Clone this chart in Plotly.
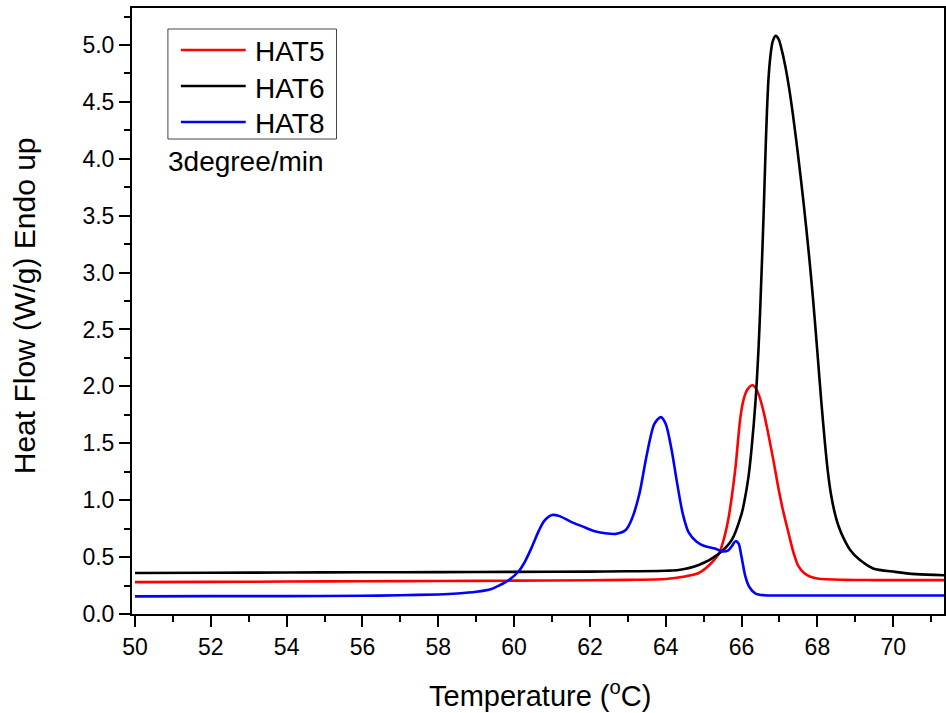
import plotly.graph_objects as go

# DSC heating scans at 3 degree/min
t_hat5 = [50, 52, 54, 56, 58, 60, 62, 63, 64, 64.5, 64.87, 65.15, 65.4, 65.55, 65.66,
          65.75, 65.84, 65.97, 66.05, 66.15, 66.29, 66.4, 66.5, 66.6, 66.7, 66.84, 66.97,
          67.1, 67.24, 67.37, 67.5, 67.65, 67.8, 68.03, 68.74, 69.5, 71.4]
hf_hat5 = [0.28, 0.282, 0.285, 0.288, 0.29, 0.293, 0.297, 0.300, 0.307, 0.33, 0.36, 0.43,
           0.53, 0.68, 0.85, 1.05, 1.29, 1.73, 1.88, 1.97, 2.01, 1.97, 1.88, 1.75, 1.59,
           1.35, 1.11, 0.90, 0.71, 0.54, 0.42, 0.36, 0.33, 0.31, 0.30, 0.298, 0.298]

t_hat6 = [50, 52, 54, 56, 58, 60, 62, 63, 64, 64.34, 64.87, 65.4, 65.74, 66.0, 66.08,
          66.18, 66.26, 66.37, 66.45, 66.5, 66.58, 66.63, 66.67, 66.71, 66.76, 66.82, 66.9,
          66.98, 67.05, 67.15, 67.25, 67.35, 67.48, 67.63, 67.78, 67.89, 68.0, 68.1, 68.2,
          68.28, 68.36, 68.45, 68.55, 68.7, 68.87, 69.1, 69.47, 70.05, 70.6, 71.4]
hf_hat6 = [0.36, 0.362, 0.365, 0.367, 0.368, 0.37, 0.372, 0.375, 0.38, 0.386, 0.43, 0.53,
           0.65, 0.88, 1.0, 1.2, 1.44, 1.88, 2.35, 2.75, 3.5, 4.04, 4.42, 4.7, 4.9, 5.03,
           5.08, 5.05, 4.97, 4.82, 4.63, 4.40, 4.06, 3.63, 3.15, 2.75, 2.3, 1.88, 1.50, 1.24,
           1.05, 0.90, 0.78, 0.66, 0.56, 0.48, 0.40, 0.37, 0.35, 0.34]

t_hat8 = [50, 52, 54, 56, 57, 58, 58.5, 59.0, 59.4, 59.6, 59.87, 60.13, 60.3, 60.47, 60.65,
          60.8, 61.0, 61.2, 61.5, 61.8, 62.1, 62.4, 62.7, 62.95, 63.1, 63.3, 63.5, 63.7,
          63.87, 64.0, 64.15, 64.3, 64.45, 64.6, 64.8, 65.0, 65.3, 65.5, 65.65, 65.75, 65.84,
          65.92, 66.0, 66.1, 66.2, 66.37, 66.6, 67.0, 68, 71.4]
hf_hat8 = [0.155, 0.157, 0.157, 0.16, 0.165, 0.172, 0.18, 0.195, 0.22, 0.25, 0.30, 0.38,
           0.47, 0.59, 0.73, 0.82, 0.87, 0.86, 0.81, 0.77, 0.73, 0.71, 0.705, 0.74, 0.83,
           1.05, 1.40, 1.67, 1.73, 1.67, 1.45, 1.15, 0.88, 0.72, 0.64, 0.60, 0.575, 0.55,
           0.56, 0.60, 0.64, 0.62, 0.50, 0.33, 0.24, 0.18, 0.165, 0.163, 0.163, 0.163]

series = [
    ("HAT5", t_hat5, hf_hat5, "#ff0000"),
    ("HAT6", t_hat6, hf_hat6, "#000000"),
    ("HAT8", t_hat8, hf_hat8, "#0000ff"),
]

FONT = "Liberation Sans, Arial, sans-serif"

# plot-area geometry in pixels, used to place the key and the axis titles
W, H = 946, 713
L, R, T, B = 132, 0, 8, 99
PW, PH = W - L - R, H - T - B


def px(x):
    return (x - L) / PW


def py(y):
    return (H - B - y) / PH


fig = go.Figure()
for name, t, hf, color in series:
    fig.add_trace(go.Scatter(
        x=t, y=hf, name=name, mode="lines", showlegend=False,
        line=dict(color=color, width=2.6, shape="spline", smoothing=0.8),
    ))

axis_common = dict(
    showline=True, linecolor="black", linewidth=2, mirror=True,
    ticks="outside", tickcolor="black", tickwidth=2, ticklen=11,
    showgrid=False, zeroline=False,
    tickfont=dict(family=FONT, size=23, color="black"),
)

fig.update_xaxes(
    range=[49.92, 71.34], dtick=2, tick0=50,
    minor=dict(dtick=1, ticks="outside", ticklen=6, tickwidth=2, tickcolor="black"),
    **axis_common,
)
fig.update_yaxes(
    range=[0, 5.325], dtick=0.5, tick0=0, tickformat=".1f",
    minor=dict(dtick=0.25, ticks="outside", ticklen=6, tickwidth=2, tickcolor="black"),
    **axis_common,
)

# key box with one sample line and label per series
shapes = [dict(type="rect", xref="paper", yref="paper",
               x0=px(168), x1=px(337), y0=py(139), y1=py(29),
               line=dict(color="#444444", width=1), fillcolor="white", layer="above")]
annotations = []
for i, (name, _, _, color) in enumerate(series):
    row = 50 + 36 * i
    shapes.append(dict(type="line", xref="paper", yref="paper",
                       x0=px(181), x1=px(246), y0=py(row), y1=py(row),
                       line=dict(color=color, width=2.6), layer="above"))
    annotations.append(dict(text=name, xref="paper", yref="paper",
                            x=px(253), y=py(row + 2), xanchor="left", yanchor="middle",
                            showarrow=False,
                            font=dict(family=FONT, size=28, color="black")))

annotations += [
    dict(text="3degree/min", xref="paper", yref="paper",
         x=px(166), y=py(161), xanchor="left", yanchor="middle",
         showarrow=False, font=dict(family=FONT, size=28, color="black")),
    dict(text="Temperature (<sup>o</sup>C)", xref="paper", yref="paper",
         x=px(541), y=py(694), xanchor="center", yanchor="middle",
         showarrow=False, font=dict(family=FONT, size=29, color="black")),
    dict(text="Heat Flow (W/g) Endo up", xref="paper", yref="paper",
         x=px(24), y=py(306), xanchor="center", yanchor="middle",
         textangle=-90, showarrow=False,
         font=dict(family=FONT, size=30, color="black")),
]

fig.update_layout(
    width=W, height=H,
    margin=dict(l=L, r=R, t=T, b=B),
    paper_bgcolor="white", plot_bgcolor="white",
    font=dict(family=FONT, color="black"),
    showlegend=False,
    shapes=shapes,
    annotations=annotations,
)

fig.write_html("out.html")
